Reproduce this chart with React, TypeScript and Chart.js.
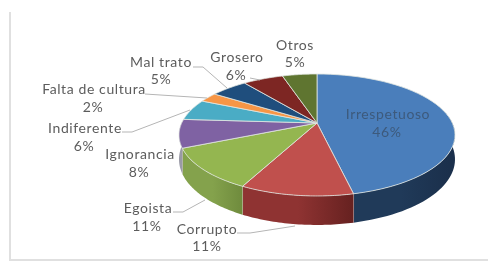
import React, { useEffect, useRef } from "react";
import { Chart, registerables } from "chart.js";

Chart.register(...registerables);

const categories = ["Irrespetuoso", "Corrupto", "Egoista", "Ignorancia", "Indiferente", "Falta de cultura", "Mal trato", "Grosero", "Otros"];
const sliceValues = [46.5, 11, 11, 7.5, 5.6, 2.6, 5.2, 5.7, 4.9];
const percentLabels = ["46%", "11%", "11%", "8%", "6%", "2%", "5%", "6%", "5%"];
const topColors = ["#4a7ebb", "#c0504d", "#94b650", "#7f62a3", "#4aacc5", "#f79646", "#1f4e7d", "#7d2623", "#5f7530"];
const wallLight = ["#203a59", "#8f3332", "#84a24c", "#9a9aa6", "#4aacc5", "#f79646", "#1f4e7d", "#7d2623", "#5f7530"];
const wallDark = ["#1b304c", "#662120", "#6f8b3d", "#6d6d78", "#4aacc5", "#f79646", "#1f4e7d", "#7d2623", "#5f7530"];
const labelPos: [number, number, number, number][] = [
  [388, 114, 387, 132],
  [207, 229, 207, 246],
  [148, 208, 147, 226],
  [140, 154, 139, 172],
  [85, 128, 84, 146],
  [94, 89, 93, 107],
  [161, 62, 161, 79],
  [237, 57, 236, 75],
  [295, 45, 295, 62],
];
const leaders: number[][][] = [
  [[145, 94], [207, 98]],
  [[122, 132], [132, 132], [190, 110]],
  [[173, 212], [183, 212], [205, 200]],
  [[237, 233], [250, 233], [295, 226]],
  [[193, 67], [203, 67], [227, 88]],
  [[250, 78], [260, 80]],
];

const APEX_X = 317;
const APEX_Y = 123;
const RX = 135.3;
const RY = 58.6;
const PERSP = 0.1967;
const DEPTH = 29;

function project(a: number): [number, number] {
  const x = Math.cos(a);
  const y = Math.sin(a);
  const s = 1 / (1 - PERSP * y);
  return [APEX_X + RX * x * s, APEX_Y + RY * y * s];
}

const pie3d = {
  id: "pie3d",
  beforeDatasetDraw(chart: any) {
    const ctx: CanvasRenderingContext2D = chart.ctx;
    const arcs = chart.getDatasetMeta(0).data;
    ctx.save();

    // chart frame
    ctx.strokeStyle = "#e0e0e0";
    ctx.lineWidth = 2;
    ctx.beginPath();
    ctx.moveTo(10, 12);
    ctx.lineTo(10, 260);
    ctx.lineTo(488, 260);
    ctx.stroke();

    // side walls, front half only
    arcs.forEach((arc: any, i: number) => {
      const lo = Math.max(arc.startAngle, -0.12);
      const hi = Math.min(arc.endAngle, Math.PI + 0.02);
      if (hi <= lo) return;
      const depthAt = (a: number) => DEPTH * (0.8 + 0.2 * Math.sin(a));
      const top: [number, number][] = [];
      for (let k = 0; k <= 40; k++) top.push(project(lo + ((hi - lo) * k) / 40));
      const g = ctx.createLinearGradient(top[0][0], 0, top[40][0], 0);
      g.addColorStop(0, wallDark[i]);
      g.addColorStop(0.5, wallLight[i]);
      g.addColorStop(1, wallLight[i]);
      ctx.fillStyle = g;
      ctx.beginPath();
      top.forEach(([x, y], k) => (k ? ctx.lineTo(x, y) : ctx.moveTo(x, y)));
      for (let k = 40; k >= 0; k--) ctx.lineTo(top[k][0], top[k][1] + depthAt(lo + ((hi - lo) * k) / 40));
      ctx.closePath();
      ctx.fill();
      ctx.strokeStyle = "rgba(235,225,225,0.75)";
      ctx.lineWidth = 1;
      ctx.beginPath();
      ctx.moveTo(top[40][0], top[40][1]);
      ctx.lineTo(top[40][0], top[40][1] + depthAt(hi));
      ctx.stroke();
    });

    // top face
    arcs.forEach((arc: any, i: number) => {
      ctx.beginPath();
      ctx.moveTo(APEX_X, APEX_Y);
      const n = 48;
      for (let k = 0; k <= n; k++) {
        const [x, y] = project(arc.startAngle + ((arc.endAngle - arc.startAngle) * k) / n);
        ctx.lineTo(x, y);
      }
      ctx.closePath();
      ctx.fillStyle = topColors[i];
      ctx.fill();
      ctx.strokeStyle = "rgba(225,230,225,0.8)";
      ctx.lineWidth = 1;
      ctx.lineJoin = "round";
      ctx.stroke();
    });

    // leader lines
    ctx.strokeStyle = "#b5b5b5";
    ctx.lineWidth = 1;
    leaders.forEach((pts) => {
      ctx.beginPath();
      pts.forEach(([x, y], k) => (k ? ctx.lineTo(x, y) : ctx.moveTo(x, y)));
      ctx.stroke();
    });

    // data labels
    ctx.font = '14px Lato, sans-serif';
    (ctx as any).letterSpacing = "0.6px";
    ctx.textAlign = "center";
    ctx.textBaseline = "middle";
    categories.forEach((name, i) => {
      const [lx, ly, px, py] = labelPos[i];
      ctx.fillStyle = i === 0 ? "#3d5a7c" : "#5c5c5c";
      ctx.fillText(name, lx, ly);
      ctx.fillText(percentLabels[i], px, py);
    });
    ctx.restore();
    return false;
  },
};

export default function App() {
  const ref = useRef<HTMLCanvasElement>(null);
  useEffect(() => {
    document.body.style.margin = "0";
    document.body.style.background = "#fff";
    const chart = new Chart(ref.current!, {
      type: "pie",
      data: {
        labels: categories,
        datasets: [{ data: sliceValues, backgroundColor: topColors, borderWidth: 0 }],
      },
      options: {
        animation: false,
        responsive: false,
        rotation: 0,
        plugins: { legend: { display: false }, tooltip: { enabled: false } },
      },
      plugins: [pie3d],
    });
    return () => chart.destroy();
  }, []);
  return (
    <canvas
      ref={ref}
      width={492}
      height={263}
      style={{ display: "block", width: 492, height: 263, filter: "blur(0.5px)" }}
    />
  );
}
